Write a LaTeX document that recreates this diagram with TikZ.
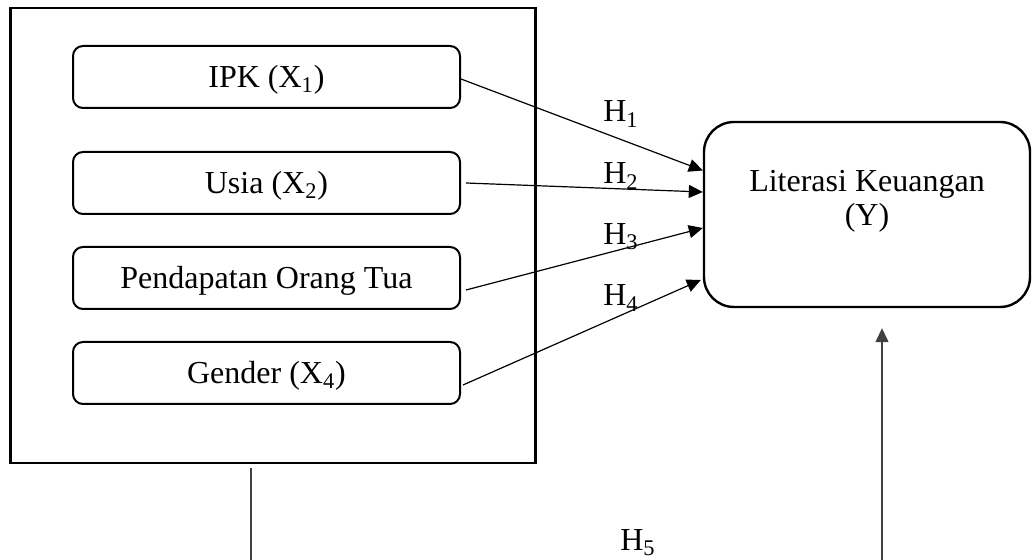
\documentclass[tikz,border=0pt]{standalone}
\usepackage{fontspec}
\setmainfont{Liberation Serif}
\usetikzlibrary{arrows.meta}
\begin{document}
\begin{tikzpicture}[x=0.5pt,y=-0.5pt,
  every node/.style={font=\fontsize{16}{17}\selectfont},
  group/.style={draw,line width=1.2pt,minimum width=262.5pt,minimum height=227.5pt,inner sep=0pt},
  varbox/.style={draw,line width=1pt,rounded corners=5pt,minimum width=193.5pt,minimum height=31pt,inner sep=0pt,text height=10.6pt,text depth=0pt},
  depbox/.style={draw,line width=1.2pt,rounded corners=15pt,minimum width=163pt,minimum height=92.5pt,inner sep=0pt},
  hlabel/.style={inner sep=0pt},
  tip/.style={-{Triangle[length=7pt,width=6.5pt]}},
  link/.style={line width=0.6pt,tip},
  plain/.style={line width=0.7pt,draw=black!75}
]
\useasboundingbox (0,0) rectangle (1035,560);
\node[group] (outer) at (273,235.5) {};
\node[varbox] (ipk) at (266.5,77) {IPK (X\textsubscript{1})};
\node[varbox] (usia) at (266.5,183) {Usia (X\textsubscript{2})};
\node[varbox] (pend) at (266.5,278) {Pendapatan Orang Tua};
\node[varbox] (gend) at (266.5,373) {Gender (X\textsubscript{4})};
\node[depbox] (lk) at (867,214.5) {};
\node[align=center,inner sep=0pt] (lktext) at (867,201) {Literasi Keuangan\\(Y)};
\node[hlabel] (h1) at (621,114) {H\textsubscript{1}};
\node[hlabel] (h2) at (621,176) {H\textsubscript{2}};
\node[hlabel] (h3) at (621,237) {H\textsubscript{3}};
\node[hlabel] (h4) at (621,298) {H\textsubscript{4}};
\node[hlabel] (h5) at (638,543) {H\textsubscript{5}};
\draw[link] ([yshift=-1pt]ipk.east) -- ([yshift=22pt]lk.west);
\draw[link] ([xshift=2.5pt]usia.east) -- ([yshift=11.25pt]lk.west);
\draw[link] ([xshift=2.5pt,yshift=-6pt]pend.east) -- ([yshift=-6.75pt]lk.west);
\draw[link] ([xshift=1pt,yshift=-6pt]gend.east) -- ([xshift=-1pt,yshift=-32.75pt]lk.west);
\coordinate (b1) at (251,560);
\coordinate (b2) at (882,560);
\draw[plain] ([yshift=-2pt]outer.south -| b1) -- (b1);
\draw[plain,tip] (b2) -- ([yshift=-10pt]lk.south -| b2);
\end{tikzpicture}
\end{document}
